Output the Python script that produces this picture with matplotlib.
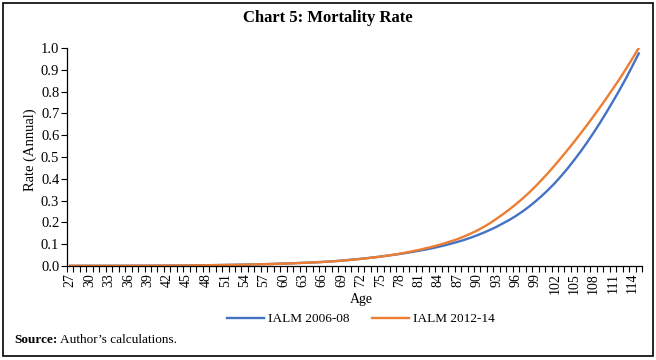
import matplotlib
matplotlib.use("Agg")
import matplotlib.pyplot as plt
import matplotlib.patches as mpatches
from matplotlib.ticker import FixedLocator, NullFormatter, FixedFormatter

ages = list(range(27, 116))

ialm_2006_08 = [
    0.0009, 0.00093, 0.00095, 0.00096, 0.00098, 0.001, 0.00103, 0.00107, 0.00112, 0.00119, 0.00128, 0.00138, 0.0015,
    0.0017, 0.0018, 0.002, 0.0021, 0.0023, 0.0026, 0.0029, 0.0032, 0.0036, 0.004,
    0.0044, 0.0049, 0.0054, 0.0059, 0.0064, 0.007, 0.0077, 0.0085, 0.0093, 0.0102,
    0.0112, 0.0122, 0.0133, 0.0145, 0.0157, 0.017, 0.0186, 0.0204, 0.0224, 0.0247,
    0.0275, 0.0303, 0.0332, 0.0363, 0.0396, 0.0432, 0.047, 0.051, 0.0553, 0.0599,
    0.0648, 0.07, 0.0756, 0.0816, 0.088, 0.095, 0.103, 0.111, 0.12, 0.13,
    0.141, 0.153, 0.166, 0.18, 0.196, 0.212, 0.23, 0.25, 0.272, 0.296,
    0.322, 0.35, 0.38, 0.413, 0.448, 0.486, 0.525, 0.567, 0.611, 0.657,
    0.705, 0.755, 0.806, 0.86, 0.917, 0.975,
]

ialm_2012_14 = [
    0.0009, 0.00091, 0.00092, 0.00093, 0.00095, 0.00097, 0.001, 0.00104, 0.00109, 0.00115, 0.00122, 0.0013, 0.0014,
    0.0015, 0.0016, 0.0018, 0.0019, 0.0021, 0.0024, 0.0027, 0.003, 0.0033, 0.0037,
    0.0041, 0.0046, 0.0051, 0.0056, 0.0062, 0.0068, 0.0075, 0.0082, 0.009, 0.0099,
    0.0109, 0.0119, 0.013, 0.0142, 0.0155, 0.0169, 0.0184, 0.0201, 0.0221, 0.0243,
    0.0268, 0.0295, 0.0325, 0.0357, 0.0392, 0.043, 0.0471, 0.0516, 0.0565, 0.0617,
    0.068, 0.074, 0.081, 0.088, 0.096, 0.105, 0.114, 0.124, 0.136, 0.149,
    0.163, 0.179, 0.197, 0.217, 0.238, 0.26, 0.284, 0.309, 0.336, 0.365,
    0.396, 0.428, 0.462, 0.497, 0.533, 0.57, 0.608, 0.647, 0.687, 0.728,
    0.77, 0.813, 0.857, 0.903, 0.951, 1.0,
]

series_names = ["IALM 2006-08", "IALM 2012-14"]
colors = ["#4472C4", "#ED7D31"]
y_ticks = [0.0, 0.1, 0.2, 0.3, 0.4, 0.5, 0.6, 0.7, 0.8, 0.9, 1.0]

plt.rcParams["font.family"] = ["Liberation Serif", "DejaVu Serif"]

fig = plt.figure(figsize=(6.56, 3.6), dpi=100)
ax = fig.add_axes([67 / 656, 1 - 266 / 360, (642 - 67) / 656, (266 - 48) / 360])

x = list(range(len(ages)))
ax.plot(x, ialm_2006_08, color=colors[0], lw=1.7, label=series_names[0])
ax.plot(x, ialm_2012_14, color=colors[1], lw=1.7, label=series_names[1])

ax.set_xlim(-0.5, len(ages) - 0.5)
ax.set_ylim(0, 1.0)

# Category axis: tick marks at boundaries, labels every third category
label_idx = [i for i, a in enumerate(ages) if (a - 27) % 3 == 0]
ax.xaxis.set_major_locator(FixedLocator(label_idx))
ax.xaxis.set_major_formatter(FixedFormatter([str(ages[i]) for i in label_idx]))
ax.xaxis.set_minor_locator(FixedLocator([i - 0.5 for i in range(len(ages) + 1)]))
ax.xaxis.set_minor_formatter(NullFormatter())
ax.tick_params(axis="x", which="major", length=0, pad=5, labelsize=10, labelrotation=90)
ax.tick_params(axis="x", which="minor", length=4, width=0.8, direction="out")

ax.set_yticks(y_ticks)
ax.set_yticklabels([f"{v:.1f}" for v in y_ticks])
ax.tick_params(axis="y", length=4, width=0.8, direction="out", labelsize=10.5, pad=1.5)

for s in ["top", "right"]:
    ax.spines[s].set_visible(False)
for s in ["left", "bottom"]:
    ax.spines[s].set_linewidth(0.9)
    ax.spines[s].set_color("black")

fig.text(30 / 656, 1 - 150 / 360, "Rate (Annual)", ha="center", va="center", rotation=90, fontsize=10.5)
fig.text(361 / 656, 1 - 300 / 360, "Age", ha="center", va="center", fontsize=10)

fig.text(0.5, 1 - 18 / 360, "Chart 5: Mortality Rate", ha="center", va="center",
         fontsize=12, fontweight="bold")

fig.legend(loc="center", bbox_to_anchor=(361 / 656, 1 - 319 / 360), ncol=2, frameon=False,
           fontsize=9.5, handlelength=2.8, columnspacing=1.7, handletextpad=0.3)

t1 = fig.text(14 / 656, 1 - 340 / 360, "Source:", ha="left", va="center", fontsize=9.5, fontweight="bold")
fig.canvas.draw()
bb = t1.get_window_extent()
fig.text((bb.x1 + 3) / 656, 1 - 340 / 360, "Author\u2019s calculations.", ha="left", va="center", fontsize=9.5)

fig.patches.append(mpatches.Rectangle((3 / 656, 4 / 360), 650 / 656, 353 / 360, transform=fig.transFigure,
                                      fill=False, edgecolor="black", linewidth=1.2))

fig.savefig("out.png", dpi=100)
